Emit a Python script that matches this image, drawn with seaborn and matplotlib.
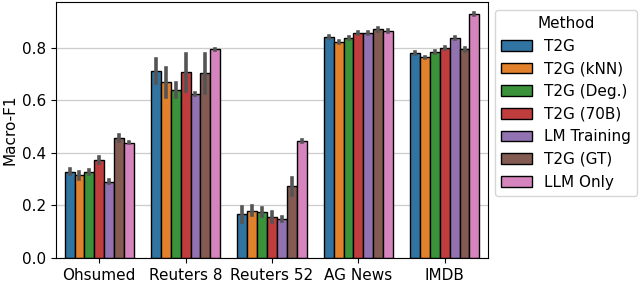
import numpy as np
import pandas as pd
import matplotlib
matplotlib.use("Agg")
import matplotlib.pyplot as plt
import seaborn as sns

datasets = ["Ohsumed", "Reuters 8", "Reuters 52", "AG News", "IMDB"]
methods = ["T2G", "T2G (kNN)", "T2G (Deg.)", "T2G (70B)", "LM Training", "T2G (GT)", "LLM Only"]

# mean Macro-F1 per method, one value per dataset
t2g       = [0.329, 0.712, 0.166, 0.843, 0.780]
t2g_knn   = [0.314, 0.669, 0.180, 0.824, 0.764]
t2g_deg   = [0.326, 0.640, 0.174, 0.838, 0.785]
t2g_70b   = [0.373, 0.707, 0.155, 0.858, 0.801]
lm_train  = [0.291, 0.623, 0.147, 0.858, 0.837]
t2g_gt    = [0.456, 0.703, 0.272, 0.871, 0.794]
llm_only  = [0.439, 0.794, 0.446, 0.864, 0.930]

# half-width of the error bars
t2g_err      = [0.010, 0.045, 0.028, 0.004, 0.004]
t2g_knn_err  = [0.012, 0.056, 0.018, 0.004, 0.003]
t2g_deg_err  = [0.008, 0.026, 0.015, 0.003, 0.003]
t2g_70b_err  = [0.012, 0.070, 0.020, 0.004, 0.004]
lm_train_err = [0.004, 0.004, 0.008, 0.004, 0.004]
t2g_gt_err   = [0.012, 0.073, 0.032, 0.005, 0.004]
llm_only_err = [0.003, 0.003, 0.003, 0.003, 0.003]

means = [t2g, t2g_knn, t2g_deg, t2g_70b, lm_train, t2g_gt, llm_only]
errs = [t2g_err, t2g_knn_err, t2g_deg_err, t2g_70b_err, lm_train_err, t2g_gt_err, llm_only_err]

# expand to three runs per bar (mean - err, mean, mean + err)
rows = []
for method, m_vals, e_vals in zip(methods, means, errs):
    for ds, m, e in zip(datasets, m_vals, e_vals):
        for run in (m - e, m, m + e):
            rows.append({"Dataset": ds, "Method": method, "Macro-F1": run})
df = pd.DataFrame(rows)

plt.rcParams["font.size"] = 11
colors = [sns.desaturate(c, 0.75) for c in sns.color_palette("tab10", len(methods))]

fig, ax = plt.subplots(figsize=(6.4, 2.84), dpi=100)
fig.subplots_adjust(left=0.0875, right=0.7625, top=0.993, bottom=0.092)
ax.set_axisbelow(True)
ax.yaxis.grid(True, color="#cccccc", linewidth=0.9)

sns.barplot(data=df, x="Dataset", y="Macro-F1", hue="Method",
            order=datasets, hue_order=methods, palette=colors, saturation=1,
            errorbar=("pi", 100), edgecolor="black", linewidth=1,
            err_kws={"color": ".33", "linewidth": 2.6}, ax=ax)

ax.set_ylim(0, 0.975)
ax.set_yticks([0.0, 0.2, 0.4, 0.6, 0.8])
ax.set_xlabel("")
ax.set_ylabel("Macro-F1", labelpad=3)

ax.legend(title="Method", loc="upper left", bbox_to_anchor=(1.016, 0.969),
          borderaxespad=0, handlelength=2.0, handletextpad=0.8,
          borderpad=0.4, labelspacing=0.5)

plt.savefig("out.png", dpi=100)
